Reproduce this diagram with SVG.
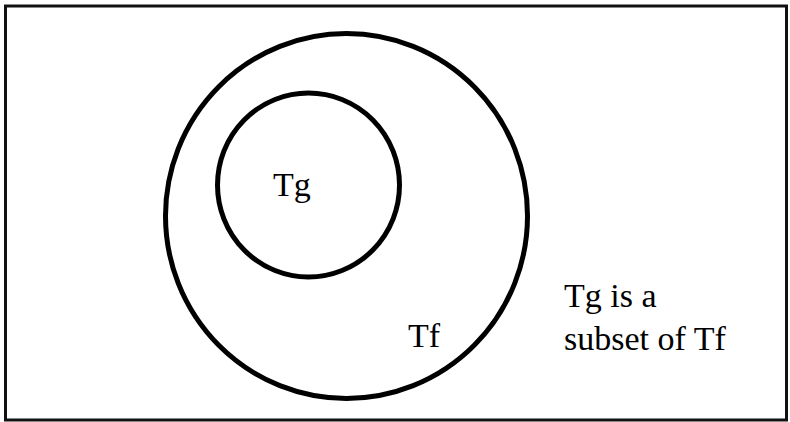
<svg xmlns="http://www.w3.org/2000/svg" width="790" height="422" viewBox="0 0 790 422">
<style>
.set{fill:none;stroke:#000;stroke-width:5}
.lbl{font-family:"Liberation Serif","Times New Roman",serif;font-size:34px;fill:#000}
</style>
<rect x="0" y="0" width="790" height="422" fill="#fff"/>
<rect id="frame" x="5.5" y="6" width="781" height="414" fill="none" stroke="#111" stroke-width="3"/>
<g id="Tf">
<ellipse class="set" cx="346.5" cy="216" rx="181" ry="182.5"/>
<text class="lbl" x="408" y="347">Tf</text>
</g>
<g id="Tg">
<ellipse class="set" cx="308.5" cy="185" rx="91" ry="92"/>
<text class="lbl" x="273" y="196">Tg</text>
</g>
<g id="connectors"></g>
<g id="note">
<text class="lbl" x="564" y="307">Tg is a</text>
<text class="lbl" x="564" y="350">subset of Tf</text>
</g>
</svg>
